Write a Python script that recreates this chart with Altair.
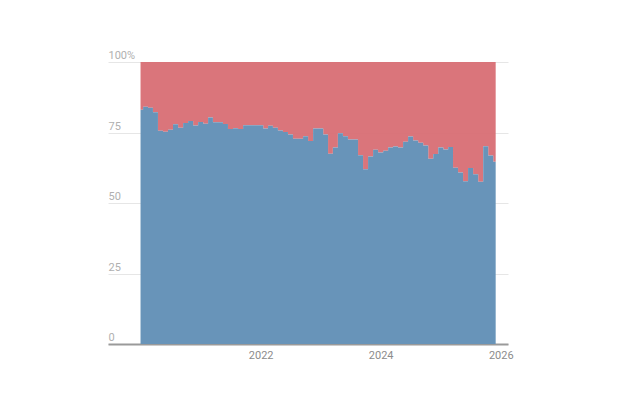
import altair as alt
import pandas as pd

# Monthly share (%) of the blue series, Jan 2020 – Dec 2025
months = [d.strftime("%Y-%m-%d") for d in pd.date_range("2020-01-01", periods=72, freq="MS")]
blue_share = [
    83.1, 84.1, 83.8, 82.2, 75.6, 75.3, 76.0, 77.9, 76.7, 78.4, 79.1, 77.5,
    78.7, 78.1, 80.3, 78.6, 78.6, 78.0, 76.2, 76.5, 76.2, 77.6, 77.6, 77.6,
    77.6, 76.4, 77.4, 76.7, 75.7, 75.2, 74.3, 72.8, 72.8, 73.7, 72.0, 76.4,
    76.4, 74.3, 67.5, 69.7, 74.7, 73.7, 72.5, 72.5, 66.9, 62.0, 66.5, 68.9,
    67.9, 68.5, 69.7, 70.0, 69.7, 71.7, 73.6, 72.2, 71.4, 70.4, 65.7, 67.4,
    69.7, 69.0, 69.9, 62.5, 60.8, 57.7, 62.4, 60.2, 57.5, 70.1, 66.8, 64.6,
]
y_ticks = [0, 25, 50, 75, 100]
x_tick_years = [2022, 2024, 2026]

BLUE = "#6894b9"
RED = "#d96f76"

df = pd.DataFrame({"month": months, "share": blue_share})

x_enc = alt.X(
    "month:T",
    scale=alt.Scale(
        type="utc",
        domain=[
            alt.DateTime(year=2019, month=6, date=17, utc=True),
            alt.DateTime(year=2026, month=2, date=14, utc=True),
        ],
    ),
    axis=alt.Axis(
        title=None,
        values=[alt.DateTime(year=y, month=1, date=1, utc=True) for y in x_tick_years],
        format="%Y",
        grid=False,
        ticks=False,
        domain=True,
        domainColor="#9a9a9a",
        domainWidth=2,
        labelColor="#8c8c8c",
        labelFontSize=11,
        labelFont="Roboto",
        labelPadding=5,
    ),
)

y_scale = alt.Scale(domain=[0, 100], nice=False)

blue = alt.Chart(df).mark_area(interpolate="step", color=BLUE).encode(
    x=x_enc,
    y=alt.Y(
        "share:Q",
        scale=y_scale,
        axis=alt.Axis(
            title=None,
            values=y_ticks,
            labelExpr="datum.value == 100 ? '100%' : datum.label",
            domain=False,
            ticks=False,
            tickSize=0,
            grid=True,
            gridColor="#e6e6e6",
            gridWidth=1,
            labelAlign="left",
            labelBaseline="bottom",
            labelPadding=0,
            labelOffset=-1.5,
            labelColor="#b0b0b0",
            labelFontSize=11,
            labelFont="Roboto",
        ),
    ),
)

red = alt.Chart(df).mark_area(interpolate="step", color=RED, opacity=0.96).encode(
    x=alt.X("month:T"),
    y=alt.Y("share:Q", scale=y_scale),
    y2=alt.datum(100),
)

chart = (
    alt.layer(red, blue)
    .properties(
        width=400,
        height=282,
        autosize=alt.AutoSizeParams(type="none"),
        padding={"left": 100, "top": 54, "right": 100, "bottom": 60},
    )
    .configure_view(stroke=None)
)

chart.save("out.html", embed_options={"renderer": "svg", "actions": False})
